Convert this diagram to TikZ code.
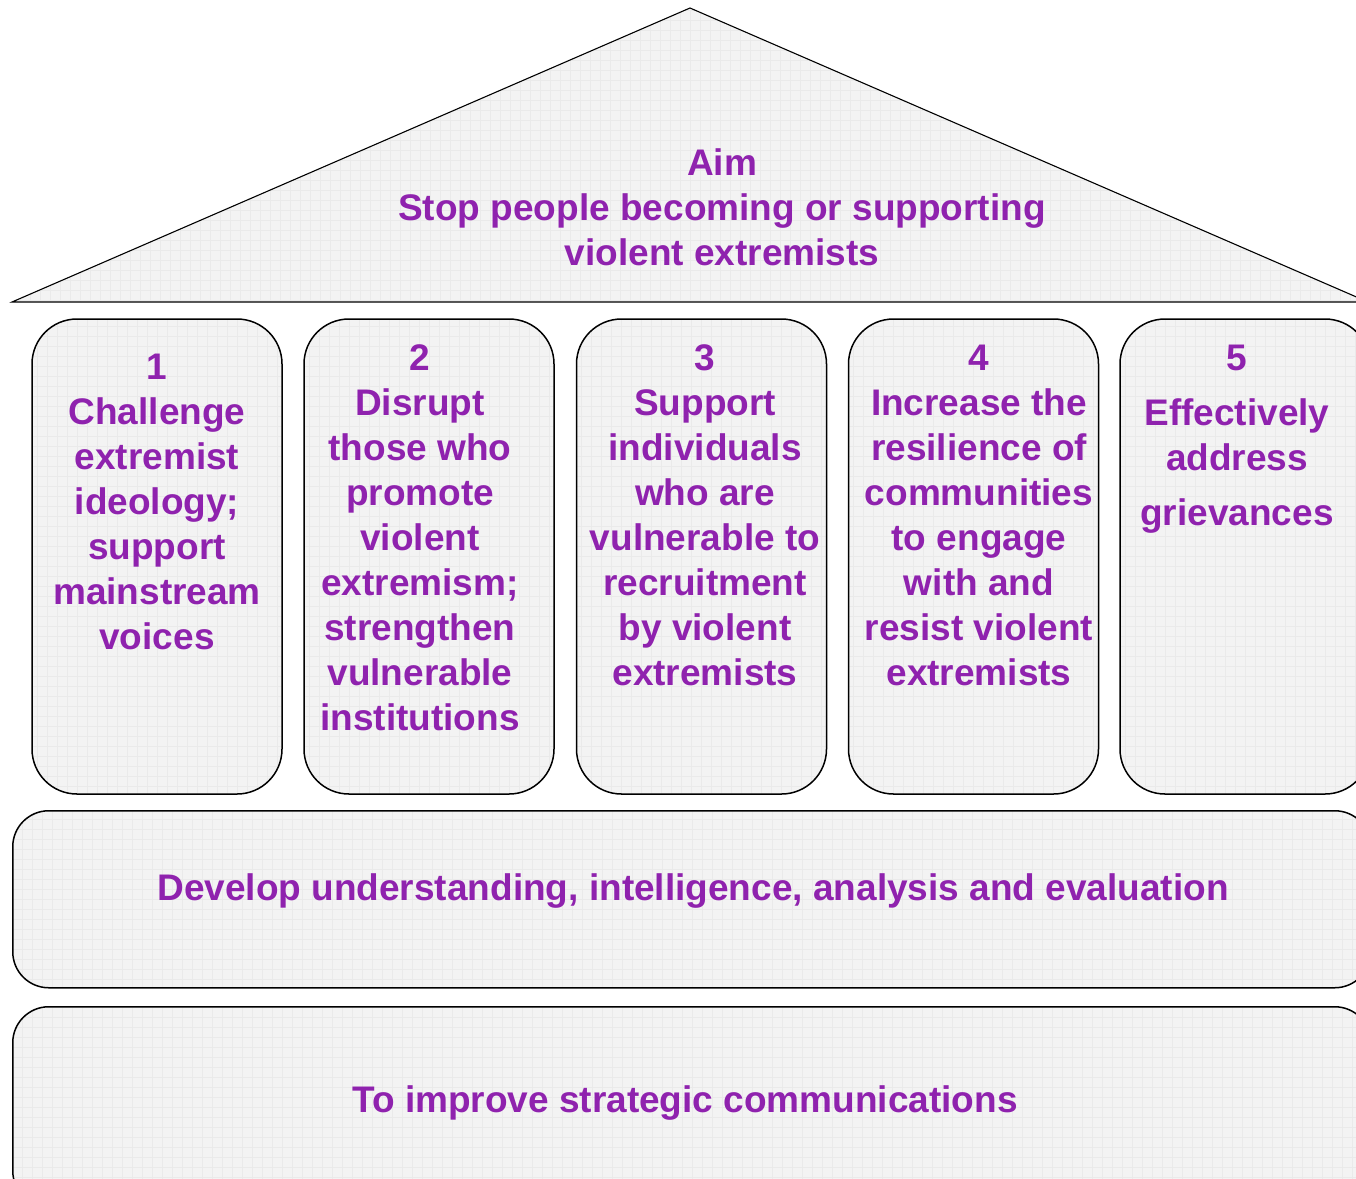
\documentclass[tikz,border=0pt]{standalone}
\usepackage{fontspec}
\setmainfont{Liberation Sans}
\usepackage{xcolor}
\definecolor{aimtext}{RGB}{143,34,174}
\definecolor{panelfill}{RGB}{243,243,243}
\definecolor{panelgrid}{RGB}{234,234,234}

\begin{document}
\begin{tikzpicture}[x=1pt,y=-1pt,
  panel/.style={draw=black,line width=1.5pt,fill=panelfill,
    path picture={\draw[panelgrid,line width=0.5pt,step=10pt]
      (path picture bounding box.south west) grid (path picture bounding box.north east);}},
  pillar/.style={panel,rounded corners=45pt,minimum width=250pt,minimum height=475pt,inner sep=0pt},
  band/.style={panel,rounded corners=36pt,minimum width=1358pt,inner sep=0pt},
  lbl/.style={font=\fontsize{37}{45}\selectfont\bfseries,text=aimtext,align=center,inner sep=0pt}]
  \useasboundingbox (0,0) rectangle (1356,1178);
  \clip (0,0) rectangle (1356,1178);
  % roof
  \draw[panel,line width=1.1pt,line join=miter] (12,302) -- (690,8) -- (1368,302) -- cycle;
  \node[lbl] (aim) at (722,207) {Aim\\Stop people becoming or supporting\\violent extremists};
  % pillars
  \node[pillar] (p1) at (157,556.5) {};
  \node[pillar] (p2) at (429,556.5) {};
  \node[pillar] (p3) at (701.5,556.5) {};
  \node[pillar] (p4) at (973.5,556.5) {};
  \node[pillar] (p5) at (1245,556.5) {};
  \node[lbl] (t1) at (157,502) {1\\Challenge\\extremist\\ideology;\\support\\mainstream\\voices};
  \node[lbl] (t2) at (420,538) {2\\Disrupt\\those who\\promote\\violent\\extremism;\\strengthen\\vulnerable\\institutions};
  \node[lbl] (t3) at (705,515) {3\\Support\\individuals\\who are\\vulnerable to\\recruitment\\by violent\\extremists};
  \node[lbl] (t4) at (979,515) {4\\Increase the\\resilience of\\communities\\to engage\\with and\\resist violent\\extremists};
  \node[lbl] (t5) at (1237,439) {5\\[10pt]Effectively\\address\\[10pt]grievances};
  % foundations
  \node[band,minimum height=177pt,anchor=north west] (b1) at (12,810) {};
  \node[band,minimum height=200pt,anchor=north west] (b2) at (12,1006) {};
  \node[lbl] (t6) at (693,891) {Develop understanding, intelligence, analysis and evaluation};
  \node[lbl] (t7) at (685,1103) {To improve strategic communications};
\end{tikzpicture}
\end{document}
